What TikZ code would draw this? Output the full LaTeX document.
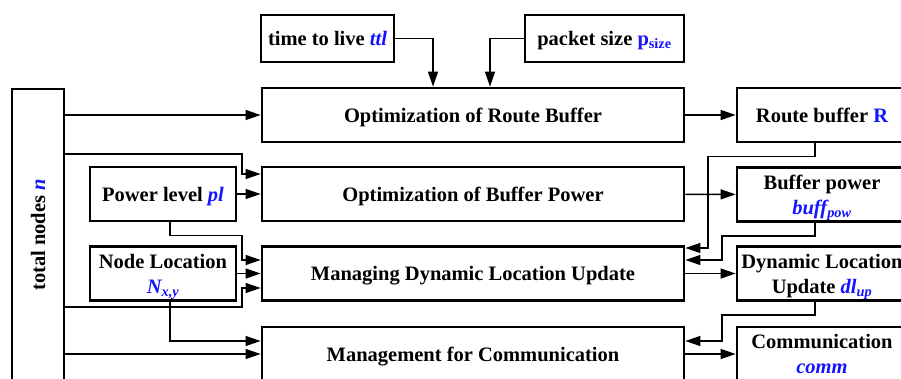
\documentclass[tikz,border=0pt]{standalone}
\usepackage{fontspec}
\setmainfont{Liberation Serif}
\usetikzlibrary{arrows.meta}
\definecolor{varblue}{RGB}{20,20,255}
\newcommand{\varb}[1]{\textcolor{varblue}{\textit{#1}}}

\begin{document}
\begin{tikzpicture}[x=1pt,y=-1pt]
  \tikzset{blockbox/.style={draw,line width=2.8pt,align=center,inner sep=0pt,text depth=0pt,
      font=\fontsize{20.5}{25}\selectfont\bfseries}}
  \tikzset{inbox/.style={blockbox,minimum width=146,minimum height=54}}
  \tikzset{midbox/.style={blockbox,minimum width=422,minimum height=54}}
  \tikzset{outbox/.style={blockbox,minimum width=170,minimum height=54}}
  \tikzset{flowline/.style={line width=1.4pt,-{Triangle[length=15pt,width=10pt]}}}
  \useasboundingbox (0,0) rectangle (901,378);
  \clip (0,0) rectangle (901,378);
  % inputs
  \node[blockbox,minimum width=52,minimum height=292] (tnodes) at (38,235) {\rotatebox{90}{total nodes \varb{n}}};
  \node[blockbox,minimum width=133,minimum height=47] (ttl) at (327.5,38.5) {time to live \varb{ttl}};
  \node[blockbox,minimum width=159,minimum height=47] (psize) at (604.5,38.5) {packet size \textcolor{varblue}{p\textsubscript{size}}};
  \node[inbox] (plevel) at (163,194) {Power level \varb{pl}};
  \node[inbox] (nloc) at (163,273.5) {Node Location\\ \varb{N\textsubscript{x,y}}};
  % processes
  \node[midbox] (orb) at (473,115) {Optimization of Route Buffer};
  \node[midbox] (obp) at (473,194) {Optimization of Buffer Power};
  \node[midbox] (mdlu) at (473,273.5) {Managing Dynamic Location Update};
  \node[midbox] (mfc) at (473,354) {Management for Communication};
  % outputs
  \node[outbox] (rbuf) at (822,115) {Route buffer \textcolor{varblue}{R}};
  \node[outbox] (bpow) at (822,194.5) {Buffer power\\ \varb{buff\textsubscript{pow}}};
  \node[outbox] (dlup) at (822,273.5) {Dynamic Location\\ Update \varb{dl\textsubscript{up}}};
  \node[outbox] (comm) at (822,354) {Communication\\ \varb{comm}};
  % arrows in
  \draw[flowline] (ttl.east) -| ([xshift=-40pt]orb.north);
  \draw[flowline] (psize.west) -| ([xshift=17pt]orb.north);
  \draw[flowline] (tnodes.east |- orb.west) -- (orb.west);
  \draw[flowline] (tnodes.east |- 0,154) -| (242,174) -- (obp.west |- 0,174);
  \draw[flowline] (plevel) -- (obp);
  \draw[flowline] ([xshift=7pt]plevel.south) -- ++(0,13) -| (242,260) -- (mdlu.west |- 0,260);
  \draw[flowline] (nloc) -- (mdlu);
  \draw[flowline] (tnodes.east |- 0,307) -| (242,288) -- (mdlu.west |- 0,288);
  \draw[flowline] ([xshift=7pt]nloc.south) |- (mfc.west |- 0,341);
  \draw[flowline] (tnodes.east |- mfc.west) -- (mfc.west);
  % arrows out
  \draw[flowline] (orb) -- (rbuf);
  \draw[flowline] (obp) -- (bpow);
  \draw[flowline] (mdlu) -- (dlup);
  \draw[flowline] (mfc) -- (comm);
  % feedback
  \draw[flowline] ([xshift=-7pt]rbuf.south) -- ++(0,13) -| (708,248) -- (mdlu.east |- 0,248);
  \draw[flowline] ([xshift=-7pt]bpow.south) -- ++(0,13) -| (722,260) -- (mdlu.east |- 0,260);
  \draw[flowline] ([xshift=-7pt]dlup.south) -- ++(0,13) -| (722,341) -- (mfc.east |- 0,341);
\end{tikzpicture}
\end{document}
